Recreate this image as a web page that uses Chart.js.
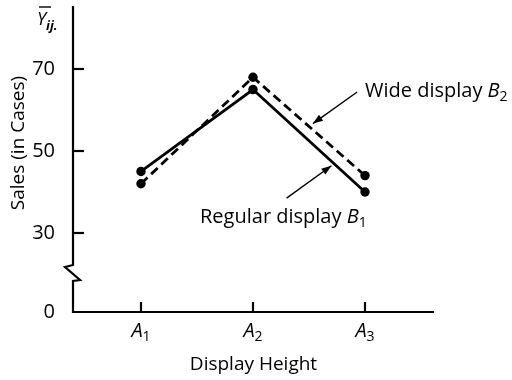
<!DOCTYPE html>
<html><head><meta charset="utf-8">
<script src="https://cdn.jsdelivr.net/npm/chart.js@4/dist/chart.umd.min.js"></script>
<style>html,body{margin:0;padding:0;background:#fff}</style>
</head><body>
<canvas id="c" width="512" height="380" style="width:512px;height:380px;display:block"></canvas>
<script>
// ---- data ----
const categories = ['A1', 'A2', 'A3'];
const categoryX = [1, 2, 3];
const regularB1 = [45, 65, 40];
const wideB2 = [42, 68, 44];
const yTickValues = [30, 50, 70];
const yBreakLabel = '0';
const yAxisMin = 10.7, yAxisMax = 85.4;
const xAxisMin = 0.393, xAxisMax = 3.616;
const yTitle = 'Sales (in Cases)';
const xTitle = 'Display Height';
const seriesNames = ['Regular display ', 'Wide display '];
const seriesSymbols = [['B', '1'], ['B', '2']];
// annotation anchors in data units: [tailX, tailY, headX, headY, textX, textY]
const wideNote = [2.93, 64.4, 2.535, 56.7, 3.0, 63.2];
const regularNote = [2.30, 38.5, 2.70, 46.4, 1.527, 32.4];

const FONT = '"Open Sans", "Noto Sans", sans-serif';
const W = '500 ';

function pts(vals) { return vals.map((v, i) => ({ x: categoryX[i], y: v })); }

function drawSubText(ctx, parts, x, y, align) {
  let w = 0;
  parts.forEach(p => { ctx.font = p.font; p.w = ctx.measureText(p.t).width; w += p.w; });
  let cx = align === 'center' ? x - w / 2 : x;
  ctx.textAlign = 'left';
  parts.forEach(p => { ctx.font = p.font; ctx.fillText(p.t, cx, y + (p.dy || 0)); cx += p.w; });
}

function arrow(ctx, x1, y1, x2, y2) {
  ctx.beginPath(); ctx.moveTo(x1, y1); ctx.lineTo(x2, y2); ctx.lineWidth = 1.4; ctx.stroke();
  const a = Math.atan2(y2 - y1, x2 - x1), len = 10, hw = 3.6;
  ctx.beginPath();
  ctx.moveTo(x2, y2);
  ctx.lineTo(x2 - len * Math.cos(a) + hw * Math.sin(a), y2 - len * Math.sin(a) - hw * Math.cos(a));
  ctx.lineTo(x2 - len * Math.cos(a) - hw * Math.sin(a), y2 - len * Math.sin(a) + hw * Math.cos(a));
  ctx.closePath(); ctx.fill();
}

const overlay = {
  id: 'overlay',
  afterDraw(chart) {
    const { ctx, chartArea: ca, scales: { x, y } } = chart;
    ctx.save();
    ctx.strokeStyle = '#000'; ctx.fillStyle = '#000';
    ctx.lineWidth = 2.2; ctx.lineJoin = 'miter'; ctx.lineCap = 'butt';
    const L = ca.left, B = ca.bottom;
    ctx.beginPath();
    ctx.moveTo(L, ca.top);
    ctx.lineTo(L, B - 47);
    ctx.lineTo(L - 8, B - 45);
    ctx.lineTo(L + 7, B - 32);
    ctx.lineTo(L, B - 31);
    ctx.lineTo(L, B);
    ctx.lineTo(ca.right, B);
    ctx.stroke();
    yTickValues.forEach(v => {
      const py = Math.round(y.getPixelForValue(v));
      ctx.beginPath(); ctx.moveTo(L, py); ctx.lineTo(L + 11, py); ctx.stroke();
    });
    ctx.textBaseline = 'alphabetic';
    categoryX.forEach((v, i) => {
      const px = Math.round(x.getPixelForValue(v));
      ctx.beginPath(); ctx.moveTo(px, B); ctx.lineTo(px, B - 10); ctx.stroke();
      drawSubText(ctx, [
        { t: categories[i].charAt(0), font: 'italic ' + W + '20px ' + FONT },
        { t: categories[i].slice(1), font: W + '14px ' + FONT, dy: 4 }
      ], px, 337, 'center');
    });
    ctx.save();
    ctx.translate(19, 143);
    ctx.rotate(-Math.PI / 2);
    ctx.font = W + '19px ' + FONT; ctx.textAlign = 'center'; ctx.textBaseline = 'middle';
    ctx.fillText(yTitle, 0, 0);
    ctx.restore();
    ctx.textBaseline = 'alphabetic';
    drawSubText(ctx, [
      { t: 'Y', font: 'italic ' + W + '18px ' + FONT },
      { t: 'ij.', font: 'italic bold 13px ' + FONT, dy: 5 }
    ], 37, 25, 'left');
    ctx.lineWidth = 1.4;
    ctx.beginPath(); ctx.moveTo(39, 7); ctx.lineTo(51, 7); ctx.stroke();
    [[wideNote, 1], [regularNote, 0]].forEach(([n, k]) => {
      const tx = x.getPixelForValue(n[0]), ty = y.getPixelForValue(n[1]);
      const hx = x.getPixelForValue(n[2]), hy = y.getPixelForValue(n[3]);
      arrow(ctx, tx, ty, hx, hy);
      drawSubText(ctx, [
        { t: seriesNames[k], font: W + '20px ' + FONT },
        { t: seriesSymbols[k][0], font: 'italic ' + W + '20px ' + FONT },
        { t: seriesSymbols[k][1], font: W + '14px ' + FONT, dy: 4 }
      ], x.getPixelForValue(n[4]), y.getPixelForValue(n[5]), 'left');
    });
    ctx.restore();
  }
};

new Chart(document.getElementById('c'), {
  type: 'line',
  data: {
    datasets: [
      { label: 'Regular display B1', data: pts(regularB1), borderColor: '#000', backgroundColor: '#000',
        borderWidth: 2.8, pointRadius: 4.7, pointBackgroundColor: '#000', pointBorderWidth: 0, tension: 0 },
      { label: 'Wide display B2', data: pts(wideB2), borderColor: '#000', backgroundColor: '#000',
        borderWidth: 2.8, borderDash: [9, 5], pointRadius: 4.7, pointBackgroundColor: '#000', pointBorderWidth: 0, tension: 0 }
    ]
  },
  options: {
    responsive: false, animation: false, devicePixelRatio: 1,
    layout: { padding: { left: 0, right: 78, top: 6, bottom: 0 } },
    plugins: { legend: { display: false }, tooltip: { enabled: false } },
    scales: {
      x: {
        type: 'linear', min: xAxisMin, max: xAxisMax,
        afterBuildTicks: s => { s.ticks = categoryX.map(v => ({ value: v })); },
        ticks: { display: false },
        grid: { display: false }, border: { display: false },
        title: { display: true, text: xTitle, color: '#000', font: { family: FONT, size: 19, weight: '500' }, padding: { top: 0, bottom: 4 } },
        afterFit: s => { s.height = 68; s.paddingLeft = 0; s.paddingRight = 0; }
      },
      y: {
        type: 'linear', min: yAxisMin, max: yAxisMax,
        afterBuildTicks: s => { s.ticks = [yAxisMin].concat(yTickValues).map(v => ({ value: v })); },
        ticks: { color: '#000', padding: 10, font: { family: FONT, size: 20, weight: '500' },
          callback: v => (v === yAxisMin ? yBreakLabel : String(v)) },
        grid: { display: false }, border: { display: false },
        afterFit: s => { s.width = 73; s.paddingTop = 0; s.paddingBottom = 0; }
      }
    }
  },
  plugins: [overlay]
});
</script>
</body></html>
